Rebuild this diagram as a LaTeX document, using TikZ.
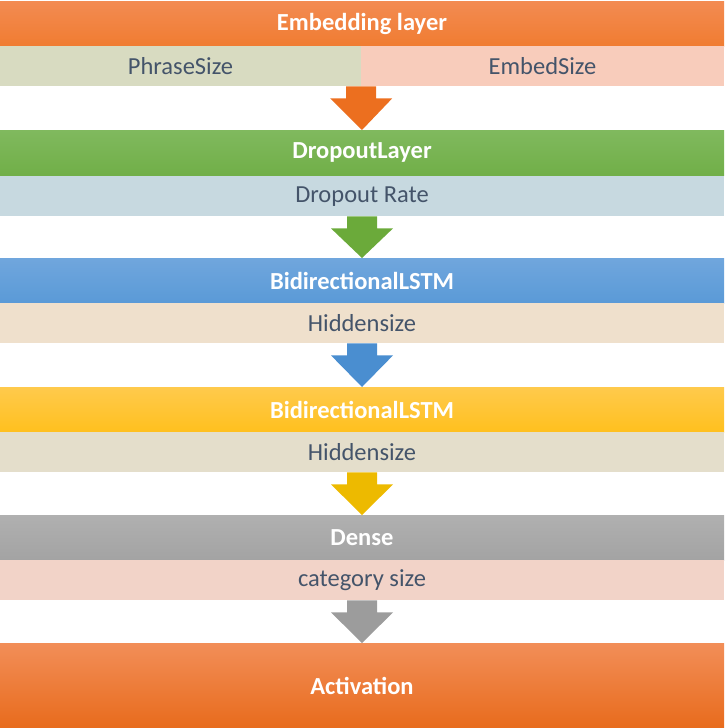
\documentclass[tikz,border=0pt]{standalone}
\usepackage{fontspec}
\setmainfont{Carlito}
\usetikzlibrary{calc}

\definecolor{textgray}{HTML}{44546A}
\definecolor{orangetop}{HTML}{F38B52}
\definecolor{orangebot}{HTML}{F07C31}
\definecolor{greentop}{HTML}{80B95E}
\definecolor{greenbot}{HTML}{71AF48}
\definecolor{bluetop}{HTML}{70A6DD}
\definecolor{bluebot}{HTML}{5A9AD7}
\definecolor{yellowtop}{HTML}{FFCA4C}
\definecolor{yellowbot}{HTML}{FFC01E}
\definecolor{graytop}{HTML}{B0B0B0}
\definecolor{graybot}{HTML}{A3A3A3}
\definecolor{acttop}{HTML}{F28E58}
\definecolor{actbot}{HTML}{E86B1C}
\definecolor{subphrase}{HTML}{D8DBC1}
\definecolor{subembed}{HTML}{F8CCBB}
\definecolor{subdrop}{HTML}{C7D9E0}
\definecolor{subhidA}{HTML}{EFE0CC}
\definecolor{subhidB}{HTML}{E4DECB}
\definecolor{subcat}{HTML}{F2D3C8}
\definecolor{arrorange}{HTML}{EC6F1F}
\definecolor{arrgreen}{HTML}{6BAA3A}
\definecolor{arrblue}{HTML}{4A8ED0}
\definecolor{arryellow}{HTML}{EDBA00}
\definecolor{arrgray}{HTML}{9C9C9C}

\begin{document}
\begin{tikzpicture}[x=1pt,y=-1pt,
    layer_node/.style={rectangle,anchor=north,inner sep=0pt,minimum width=724pt,minimum height=45pt,text=white,font=\fontsize{24.5}{28}\selectfont\bfseries},
    param_node/.style={rectangle,anchor=north,inner sep=0pt,minimum width=724pt,minimum height=40pt,text=textgray,font=\fontsize{24.5}{28}\selectfont}]

    \useasboundingbox (0,0) rectangle (724,728);

    \node[layer_node, top color=orangetop, bottom color=orangebot] (embed) at (362, 1) {Embedding layer};
    \node[param_node, minimum width=361pt, fill=subphrase] (phrase) at (180.5, 46) {PhraseSize};
    \node[param_node, minimum width=363pt, fill=subembed] (esize) at (542.5, 46) {EmbedSize};

    \node[layer_node, top color=greentop, bottom color=greenbot] (dropout) at (362, 130) {DropoutLayer};
    \node[param_node, fill=subdrop] (rate) at (362, 176) {Dropout Rate};

    \node[layer_node, top color=bluetop, bottom color=bluebot] (lstm1) at (362, 258) {BidirectionalLSTM};
    \node[param_node, fill=subhidA] (hidden1) at (362, 303) {Hiddensize};

    \node[layer_node, top color=yellowtop, bottom color=yellowbot] (lstm2) at (362, 387) {BidirectionalLSTM};
    \node[param_node, fill=subhidB] (hidden2) at (362, 432) {Hiddensize};

    \node[layer_node, top color=graytop, bottom color=graybot] (dense) at (362, 515) {Dense};
    \node[param_node, fill=subcat] (cat) at (362, 560) {category size};

    \node[layer_node, minimum height=85pt, top color=acttop, bottom color=actbot] (act) at (362, 643) {Activation};

    % block arrows between layers
    \fill[arrorange] ($(phrase.south east)+(-15,0)$) -- ($(phrase.south east)+(15,0)$) -- ($(phrase.south east)+(15,12)$) -- ($(phrase.south east)+(31,12)$) -- (dropout.north) -- ($(phrase.south east)+(-31,12)$) -- ($(phrase.south east)+(-15,12)$) -- cycle;
    \fill[arrgreen] ($(rate.south)+(-15,0)$) -- ($(rate.south)+(15,0)$) -- ($(rate.south)+(15,12)$) -- ($(rate.south)+(31,12)$) -- (lstm1.north) -- ($(rate.south)+(-31,12)$) -- ($(rate.south)+(-15,12)$) -- cycle;
    \fill[arrblue] ($(hidden1.south)+(-15,0)$) -- ($(hidden1.south)+(15,0)$) -- ($(hidden1.south)+(15,12)$) -- ($(hidden1.south)+(31,12)$) -- (lstm2.north) -- ($(hidden1.south)+(-31,12)$) -- ($(hidden1.south)+(-15,12)$) -- cycle;
    \fill[arryellow] ($(hidden2.south)+(-15,0)$) -- ($(hidden2.south)+(15,0)$) -- ($(hidden2.south)+(15,12)$) -- ($(hidden2.south)+(31,12)$) -- (dense.north) -- ($(hidden2.south)+(-31,12)$) -- ($(hidden2.south)+(-15,12)$) -- cycle;
    \fill[arrgray] ($(cat.south)+(-15,0)$) -- ($(cat.south)+(15,0)$) -- ($(cat.south)+(15,12)$) -- ($(cat.south)+(31,12)$) -- (act.north) -- ($(cat.south)+(-31,12)$) -- ($(cat.south)+(-15,12)$) -- cycle;

\end{tikzpicture}
\end{document}
